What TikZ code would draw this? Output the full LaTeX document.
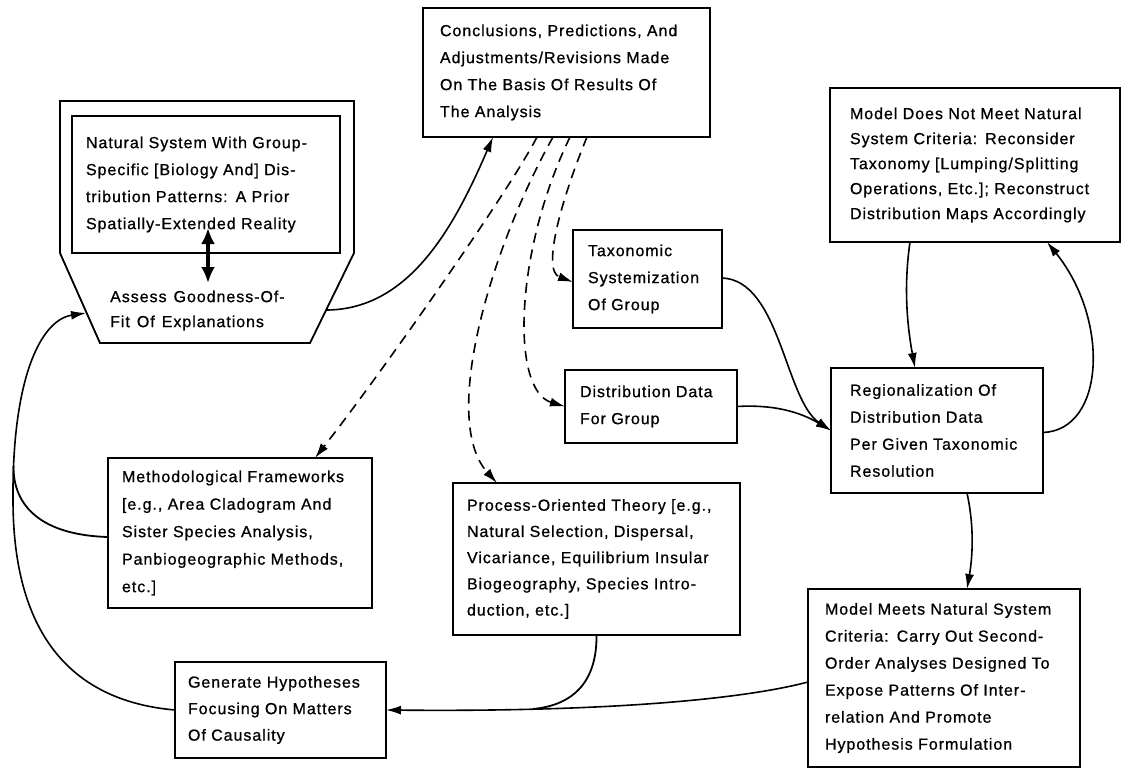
\documentclass[tikz,border=0pt]{standalone}
\usepackage{fontspec}
\newfontfamily\dfont[LetterSpace=6,WordSpace=1.3,FakeBold=0.8]{Liberation Sans}
\usetikzlibrary{arrows.meta,calc}
\begin{document}
\begin{tikzpicture}[x=1pt,y=-1pt,
  ln/.style={line width=1.8pt},
  bx/.style={draw, line width=1.8pt, outer sep=0pt, inner ysep=0pt, align=left,
    font={\dfont\fontsize{16}{27}\selectfont}},
  arr/.style={line width=1.6pt, -{Latex[length=15pt,width=9pt]}},
  darr/.style={arr, dash pattern=on 10pt off 7pt},
  dbl/.style={line width=3.6pt, {Latex[length=16pt,width=14pt]}-{Latex[length=16pt,width=14pt]}},
]
\useasboundingbox (0,0) rectangle (1124,768);

% outer frame of the natural system
\draw[ln] (60,101) -- (354,101) -- (354,253) -- (310,343) -- (100,343) -- (60,253) -- cycle;
\coordinate (outR) at (326,310);
\coordinate (outL) at (86,313);

\node[bx, minimum width=268, minimum height=137, inner xsep=14, text width=240] (natsys) at (206,184.5)
 {\mbox{Natural System With Group-}\\\mbox{Specific [Biology And] Dis-}\\\mbox{tribution Patterns: A Prior}\\\mbox{Spatially-Extended Reality}};

\node[align=left, inner sep=0pt, anchor=west, font={\dfont\fontsize{16}{25}\selectfont}] (assess) at (110,310.5)
 {\mbox{Assess Goodness-Of-}\\\mbox{Fit Of Explanations}};

\node[bx, minimum width=287, minimum height=129, inner xsep=17, text width=253] (conc) at (566.5,72.5)
 {\mbox{Conclusions, Predictions, And}\\\mbox{Adjustments/Revisions Made}\\\mbox{On The Basis Of Results Of}\\\mbox{The Analysis}};

\node[bx, minimum width=149, minimum height=98, inner xsep=15, text width=119] (taxo) at (647.5,279)
 {\mbox{Taxonomic}\\\mbox{Systemization}\\\mbox{Of Group}};

\node[bx, minimum width=172, minimum height=73, inner xsep=15, text width=142] (dist) at (651,406.5)
 {\mbox{Distribution Data}\\\mbox{For Group}};

\node[bx, minimum width=212, minimum height=125, inner xsep=19, text width=174] (regn) at (937,430.5)
 {\mbox{Regionalization Of}\\\mbox{Distribution Data}\\\mbox{Per Given Taxonomic}\\\mbox{Resolution}};

\node[bx, minimum width=290, minimum height=154, inner xsep=20, text width=250,
  font={\dfont\fontsize{16}{25}\selectfont}] (notmeet) at (975,165)
 {\mbox{Model Does Not Meet Natural}\\\mbox{System Criteria: Reconsider}\\\mbox{Taxonomy [Lumping/Splitting}\\\mbox{Operations, Etc.]; Reconstruct}\\\mbox{Distribution Maps Accordingly}};

\node[bx, minimum width=264, minimum height=150, inner xsep=14, text width=236,
  font={\dfont\fontsize{16}{27.5}\selectfont}] (meth) at (240,533)
 {\mbox{Methodological Frameworks}\\\mbox{[e.g., Area Cladogram And}\\\mbox{Sister Species Analysis,}\\\mbox{Panbiogeographic Methods,}\\\mbox{etc.]}};

\node[bx, minimum width=287, minimum height=152, inner xsep=14, text width=259,
  font={\dfont\fontsize{16}{26.2}\selectfont}] (proc) at (596.5,559)
 {\mbox{Process-Oriented Theory [e.g.,}\\\mbox{Natural Selection, Dispersal,}\\\mbox{Vicariance, Equilibrium Insular}\\\mbox{Biogeography, Species Intro-}\\\mbox{duction, etc.]}};

\node[bx, minimum width=211, minimum height=96, inner xsep=13, text width=185,
  font={\dfont\fontsize{16}{26.5}\selectfont}] (gen) at (280.5,710)
 {\mbox{Generate Hypotheses}\\\mbox{Focusing On Matters}\\\mbox{Of Causality}};

\node[bx, minimum width=272, minimum height=178, inner xsep=17, text width=238] (meets) at (944,678)
 {\mbox{Model Meets Natural System}\\\mbox{Criteria: Carry Out Second-}\\\mbox{Order Analyses Designed To}\\\mbox{Expose Patterns Of Inter-}\\\mbox{relation And Promote}\\\mbox{Hypothesis Formulation}};

% connectors
\draw[dbl] ($(natsys.south)+(2,-25)$) -- ($(natsys.south)+(2,30)$);

\draw[arr] (outR) .. controls (410,310) and (455,225) .. ($(conc.south west)+(70,0)$);

\draw[darr] ($(conc.south west)+(114,0)$) .. controls (510,190) and (380,375) .. ($(meth.north west)+(207,0)$);
\draw[darr] ($(conc.south west)+(130,0)$) .. controls (490,250) and (440,420) .. ($(proc.north west)+(44,0)$);
\draw[darr] ($(conc.south west)+(147,0)$) .. controls (515,250) and (510,390) .. (dist.west);
\draw[darr] ($(conc.south west)+(164,0)$) .. controls (565,190) and (540,270) .. ($(taxo.west)+(0,3)$);

\draw[arr] ($(taxo.east)+(0,-1)$) .. controls (780,280) and (785,400) .. (regn.west);
\draw[arr] (dist.east) .. controls (780,404) and (805,415) .. (regn.west);

\draw[arr] ($(notmeet.south west)+(80,0)$) .. controls (903,290) and (908,330) .. ($(regn.north west)+(84,0)$);
\draw[arr] ($(regn.east)+(0,2)$) .. controls (1105,430) and (1110,320) .. ($(notmeet.south west)+(217,0)$);

\draw[arr] ($(regn.south west)+(136,0)$) .. controls (975,530) and (972,560) .. ($(meets.north west)+(159,0)$);

\coordinate (join2) at (533,709);
\draw[arr] ($(meets.west)+(0,4)$) .. controls (740,700) and (600,712) .. (gen.east);
\draw[ln] (proc.south) .. controls (597,680) and (575,705) .. (join2);

\coordinate (joinL) at (13.5,466);
\draw[arr] (gen.west) .. controls (60,700) and (13,620) .. (13,500) .. controls (12,380) and (40,320) .. (outL);
\draw[ln] ($(meth.west)+(0,4)$) .. controls (40,535) and (13,505) .. (joinL);

\end{tikzpicture}
\end{document}
